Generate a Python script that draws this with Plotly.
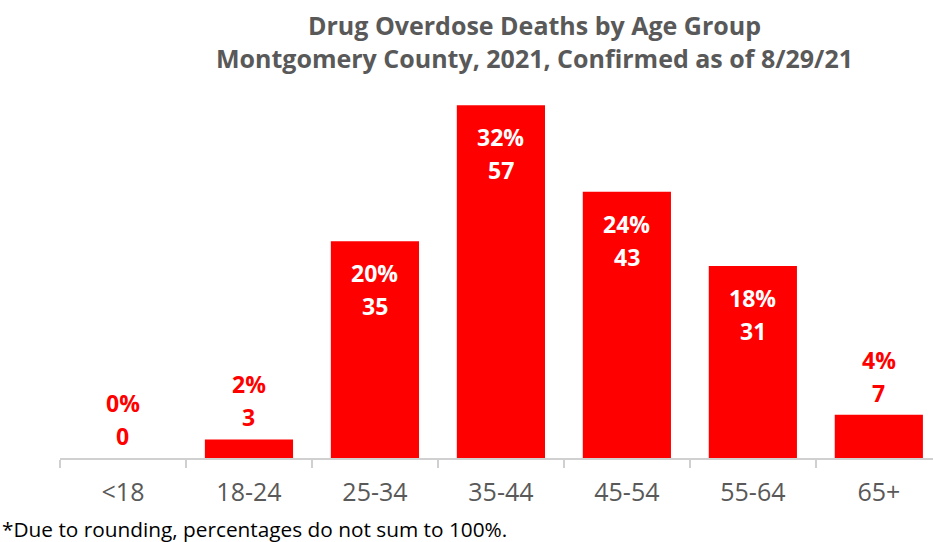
import plotly.graph_objects as go

categories = ["<18", "18-24", "25-34", "35-44", "45-54", "55-64", "65+"]
deaths = [0, 3, 35, 57, 43, 31, 7]
percent_labels = ["0%", "2%", "20%", "32%", "24%", "18%", "4%"]
inside_label = [False, False, True, True, True, True, False]

title_lines = ["Drug Overdose Deaths by Age Group",
               "Montgomery County, 2021, Confirmed as of 8/29/21"]
footnote = "*Due to rounding, percentages do not sum to 100%."

RED = "#FF0000"
GRAY = "#595959"
FONT = "Open Sans"

fig = go.Figure()
fig.add_trace(go.Bar(
    x=categories, y=deaths, marker_color=RED, marker_line_width=0,
    hoverinfo="skip",
))

annotations = []
for cat, val, pct, inside in zip(categories, deaths, percent_labels, inside_label):
    color = "white" if inside else RED
    pct_shift, val_shift = (-32, -65) if inside else (55, 22)
    for text, shift in ((pct, pct_shift), (str(val), val_shift)):
        annotations.append(dict(
            x=cat, y=val, xref="x", yref="y",
            text=f"<b>{text}</b>",
            showarrow=False, yanchor="middle", yshift=shift,
            font=dict(family=FONT, size=23, color=color),
        ))

annotations.append(dict(
    x=0.543, y=1.0, xref="paper", yref="paper", yanchor="middle", yshift=38.5,
    xanchor="center",
    text=f"<b>{title_lines[0]}<br>{title_lines[1]}</b>",
    showarrow=False, font=dict(family=FONT, size=25, color=GRAY),
))
annotations.append(dict(
    x=0, y=0, xref="paper", yref="paper", xanchor="left", yanchor="middle",
    xshift=-60, yshift=-71,
    text=footnote, showarrow=False,
    font=dict(family=FONT, size=20.8, color="#000000"),
))

fig.update_layout(
    width=933, height=542,
    margin=dict(l=60, r=0, t=80, b=84),
    paper_bgcolor="white", plot_bgcolor="white",
    bargap=0.3, showlegend=False,
    annotations=annotations,
    font=dict(family=FONT),
)
fig.update_xaxes(
    range=[-0.5, 6.43], showline=True, linecolor="#D0D0D0", linewidth=1.5,
    ticks="outside", tickson="boundaries", ticklen=8, tickcolor="#D0D0D0",
    tickwidth=1.5,
    tickfont=dict(family=FONT, size=25, color=GRAY),
    ticklabelstandoff=11,
    fixedrange=True, automargin=False,
)
fig.update_yaxes(range=[0, 61.07], visible=False, showgrid=False, fixedrange=True)

fig.write_html("out.html", config={"displayModeBar": False},
               post_script="document.body.style.margin='0';")
